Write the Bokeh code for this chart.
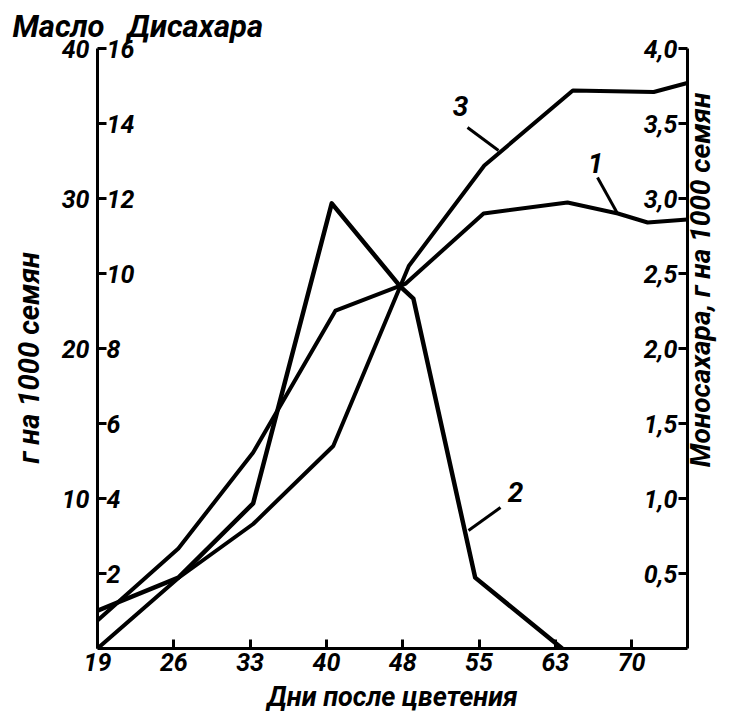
from bokeh.plotting import figure
from bokeh.models import Range1d, LinearAxis, FixedTicker, Label, LabelSet, ColumnDataSource
from bokeh.core.properties import value
from bokeh.embed import file_html
from bokeh.resources import INLINE
import math

# ---- data ----
days = [19, 26, 33, 40, 48, 55, 63, 70]            # x tick labels (equally spaced steps)

# curve 1 - oil (Масло), g per 1000 seeds; x in tick steps
oil_x = [0, 1.06, 2.04, 3.12, 4.04, 5.06, 6.16, 6.82, 7.21, 7.73]
oil_y = [1.87, 6.67, 13.07, 22.53, 24.33, 29.0, 29.73, 29.0, 28.4, 28.6]

# curve 2 - disaccharides (Дисахара)
dis_x = [0, 1.06, 2.04, 3.07, 3.97, 4.14, 4.95, 6.09]
dis_y = [1.01, 1.89, 3.87, 11.87, 9.65, 9.33, 1.89, 0.0]

# curve 3 - monosaccharides (Моносахара)
mono_x = [0, 1.06, 2.04, 3.09, 4.08, 5.07, 6.23, 7.29, 7.73]
mono_y = [0.0, 0.47, 0.83, 1.35, 2.55, 3.22, 3.72, 3.71, 3.77]

oil_ticks = [10, 20, 30, 40]
oil_minor = [5, 15, 25, 35]
dis_ticks = [2, 4, 6, 8, 10, 12, 14, 16]
mono_ticks = [0.5, 1.0, 1.5, 2.0, 2.5, 3.0, 3.5, 4.0]

# ---- geometry ----
W, H = 736, 718
BL, BR, BT, BB = 97, 49, 38, 70
PX_X = 76.3     # pixels per tick step
PX_Y = 37.5     # pixels per disaccharide unit
FW, FH = W - BL - BR, H - BT - BB
XMAX = FW / PX_X
YMAX = FH / PX_Y

FONT = "Roboto"
FSTYLE = "bold italic"
NB = "\u00a0"

p = figure(width=W, height=H, output_backend="svg", toolbar_location=None,
           x_range=Range1d(0, XMAX), y_range=Range1d(0, YMAX),
           x_axis_location=None, y_axis_location=None,
           min_border_left=BL, min_border_right=BR, min_border_top=BT, min_border_bottom=BB)
p.outline_line_color = None
p.background_fill_color = "white"
p.border_fill_color = "white"
p.grid.visible = False
p.extra_y_ranges = {"oil": Range1d(0, YMAX * 2.5), "mono": Range1d(0, YMAX / 4)}

# title row: "Масло  Дисахара"
p.title.text = "Масло" + NB * 2 + " Дисахара"
p.title.align = "left"
p.title.offset = -85
p.title.vertical_align = "bottom"
p.title.text_font = FONT
p.title.text_font_style = FSTYLE
p.title.text_font_size = "31px"
p.title.text_color = "black"
try:
    p.title.standoff = -12
except Exception:
    p.title.standoff = 0

def style_axis(ax):
    ax.axis_line_width = 3
    ax.axis_line_color = "black"
    ax.major_tick_line_width = 3
    ax.major_tick_line_color = "black"
    ax.major_tick_in = 9
    ax.major_tick_out = 0
    ax.minor_tick_line_width = 3
    ax.minor_tick_line_color = "black"
    ax.minor_tick_in = 9
    ax.minor_tick_out = 0
    ax.major_label_text_font = FONT
    ax.major_label_text_font_style = FSTYLE
    ax.major_label_text_font_size = "25px"
    ax.major_label_text_color = "black"
    ax.axis_label_text_font = FONT
    ax.axis_label_text_font_style = FSTYLE
    ax.axis_label_text_color = "black"

xaxis = LinearAxis(ticker=FixedTicker(ticks=list(range(len(days)))),
                   major_label_overrides={i: str(d) for i, d in enumerate(days)})
style_axis(xaxis)
xaxis.major_label_standoff = 4
xaxis.axis_label = "Дни после цветения"
xaxis.axis_label_text_font_size = "27px"
xaxis.axis_label_standoff = 7
p.add_layout(xaxis, "below")

oil_axis = LinearAxis(y_range_name="oil", ticker=FixedTicker(ticks=oil_ticks, minor_ticks=oil_minor),
                      bounds=(0, 40))
style_axis(oil_axis)
oil_axis.major_label_standoff = 8
oil_axis.axis_label = "г на 1000 семян" + NB * 4
oil_axis.axis_label_text_font_size = "29px"
oil_axis.axis_label_standoff = 13
p.add_layout(oil_axis, "left")

# right axis: value ticks drawn as (inward) minor ticks; its single hidden major tick carries
# the rotated axis title at the title's centre
RIGHT_TITLE_AT = 2.4375
mono_axis = LinearAxis(y_range_name="mono",
                       ticker=FixedTicker(ticks=[RIGHT_TITLE_AT], minor_ticks=mono_ticks),
                       major_label_overrides={RIGHT_TITLE_AT: "Моносахара, г на 1000 семян"},
                       bounds=(0, 4))
style_axis(mono_axis)
mono_axis.major_tick_line_color = None
mono_axis.major_tick_in = 0
mono_axis.major_label_text_font_size = "28px"
mono_axis.major_label_orientation = math.pi / 2
mono_axis.major_label_standoff = 13
p.add_layout(mono_axis, "right")

# ---- curves ----
p.line(oil_x, oil_y, y_range_name="oil", line_color="black", line_width=4, line_join="round")
p.line(dis_x, dis_y, line_color="black", line_width=4.5, line_join="round")
p.line(mono_x, mono_y, y_range_name="mono", line_color="black", line_width=4, line_join="round")

# ---- inner tick labels ----
dis_src = ColumnDataSource(dict(x=[0] * len(dis_ticks), y=dis_ticks, t=[str(v) for v in dis_ticks]))
p.add_layout(LabelSet(x="x", y="y", text="t", source=dis_src, x_offset=9,
                      text_align="left", text_baseline="middle",
                      text_font=value(FONT), text_font_style=FSTYLE,
                      text_font_size="25px", text_color="black"))
mono_src = ColumnDataSource(dict(x=[XMAX] * len(mono_ticks), y=mono_ticks,
                                 t=[f"{v:.1f}".replace(".", ",") for v in mono_ticks]))
p.add_layout(LabelSet(x="x", y="y", text="t", source=mono_src, y_range_name="mono", x_offset=-10,
                      text_align="right", text_baseline="middle",
                      text_font=value(FONT), text_font_style=FSTYLE,
                      text_font_size="25px", text_color="black"))

# ---- curve numbers with leader lines (positions in chart units) ----
def px_x(x):
    return (x - BL) / PX_X

def px_y(y):
    return (BT + FH - y) / PX_Y

num_text = ["3", "1", "2"]
num_pos = [(460, 105), (595, 162), (515, 491)]
lead_from = [(467, 127), (597, 177), (500, 507)]
lead_to = [(498, 150), (617, 213), (468, 530)]
for t, (lx, ly) in zip(num_text, num_pos):
    p.add_layout(Label(x=px_x(lx), y=px_y(ly), text=t, text_font=FONT, text_font_style=FSTYLE,
                       text_font_size="28px", text_color="black", text_align="center",
                       text_baseline="middle"))
p.segment(x0=[px_x(a[0]) for a in lead_from], y0=[px_y(a[1]) for a in lead_from],
          x1=[px_x(b[0]) for b in lead_to], y1=[px_y(b[1]) for b in lead_to],
          line_color="black", line_width=3)

open("out.html", "w").write(file_html(p, INLINE))
